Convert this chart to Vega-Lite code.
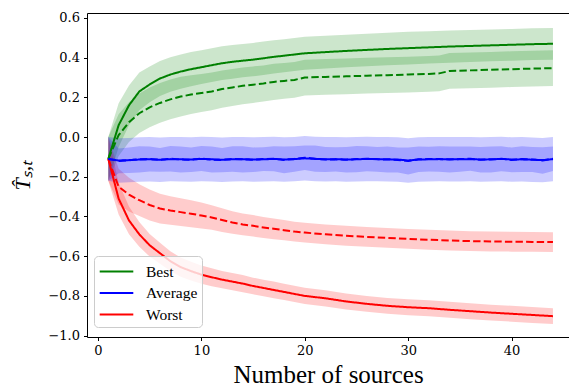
{
"$schema": "https://vega.github.io/schema/vega-lite/v6.json",
"width": 482, "height": 324,
"autosize": {"type": "none"},
"padding": {"left": 87, "top": 13, "right": 0, "bottom": 52},
"background": "white",
"data": {"values": [
{"x":1,"s":"Best","k":"solid","y":-0.11,"e":0.11},
{"x":2,"s":"Best","k":"solid","y":0.06,"e":0.11},
{"x":3,"s":"Best","k":"solid","y":0.16,"e":0.1},
{"x":4,"s":"Best","k":"solid","y":0.23,"e":0.095},
{"x":5,"s":"Best","k":"solid","y":0.265,"e":0.09},
{"x":6,"s":"Best","k":"solid","y":0.295,"e":0.088},
{"x":7,"s":"Best","k":"solid","y":0.315,"e":0.087},
{"x":8,"s":"Best","k":"solid","y":0.33,"e":0.086},
{"x":9,"s":"Best","k":"solid","y":0.342,"e":0.086},
{"x":10,"s":"Best","k":"solid","y":0.352,"e":0.085},
{"x":11,"s":"Best","k":"solid","y":0.362,"e":0.085},
{"x":12,"s":"Best","k":"solid","y":0.372,"e":0.085},
{"x":13,"s":"Best","k":"solid","y":0.379,"e":0.085},
{"x":14,"s":"Best","k":"solid","y":0.385,"e":0.084},
{"x":15,"s":"Best","k":"solid","y":0.39,"e":0.084},
{"x":16,"s":"Best","k":"solid","y":0.397,"e":0.084},
{"x":17,"s":"Best","k":"solid","y":0.404,"e":0.084},
{"x":18,"s":"Best","k":"solid","y":0.41,"e":0.083},
{"x":19,"s":"Best","k":"solid","y":0.416,"e":0.083},
{"x":20,"s":"Best","k":"solid","y":0.422,"e":0.083},
{"x":22,"s":"Best","k":"solid","y":0.428,"e":0.083},
{"x":24,"s":"Best","k":"solid","y":0.434,"e":0.082},
{"x":26,"s":"Best","k":"solid","y":0.439,"e":0.082},
{"x":28,"s":"Best","k":"solid","y":0.444,"e":0.082},
{"x":30,"s":"Best","k":"solid","y":0.448,"e":0.082},
{"x":32,"s":"Best","k":"solid","y":0.452,"e":0.081},
{"x":34,"s":"Best","k":"solid","y":0.456,"e":0.081},
{"x":36,"s":"Best","k":"solid","y":0.459,"e":0.081},
{"x":38,"s":"Best","k":"solid","y":0.462,"e":0.08},
{"x":40,"s":"Best","k":"solid","y":0.465,"e":0.08},
{"x":42,"s":"Best","k":"solid","y":0.468,"e":0.08},
{"x":44,"s":"Best","k":"solid","y":0.47,"e":0.08},
{"x":1,"s":"Best","k":"dashed","y":-0.11,"e":0.11},
{"x":2,"s":"Best","k":"dashed","y":0.01,"e":0.105},
{"x":3,"s":"Best","k":"dashed","y":0.075,"e":0.1},
{"x":4,"s":"Best","k":"dashed","y":0.12,"e":0.1},
{"x":5,"s":"Best","k":"dashed","y":0.15,"e":0.1},
{"x":6,"s":"Best","k":"dashed","y":0.172,"e":0.1},
{"x":7,"s":"Best","k":"dashed","y":0.19,"e":0.1},
{"x":8,"s":"Best","k":"dashed","y":0.204,"e":0.1},
{"x":9,"s":"Best","k":"dashed","y":0.214,"e":0.098},
{"x":10,"s":"Best","k":"dashed","y":0.222,"e":0.096},
{"x":11,"s":"Best","k":"dashed","y":0.23,"e":0.095},
{"x":12,"s":"Best","k":"dashed","y":0.242,"e":0.094},
{"x":13,"s":"Best","k":"dashed","y":0.25,"e":0.093},
{"x":14,"s":"Best","k":"dashed","y":0.258,"e":0.092},
{"x":15,"s":"Best","k":"dashed","y":0.264,"e":0.092},
{"x":16,"s":"Best","k":"dashed","y":0.27,"e":0.091},
{"x":17,"s":"Best","k":"dashed","y":0.278,"e":0.091},
{"x":18,"s":"Best","k":"dashed","y":0.283,"e":0.09},
{"x":19,"s":"Best","k":"dashed","y":0.288,"e":0.09},
{"x":20,"s":"Best","k":"dashed","y":0.3,"e":0.09},
{"x":22,"s":"Best","k":"dashed","y":0.303,"e":0.09},
{"x":24,"s":"Best","k":"dashed","y":0.306,"e":0.09},
{"x":26,"s":"Best","k":"dashed","y":0.309,"e":0.09},
{"x":28,"s":"Best","k":"dashed","y":0.312,"e":0.09},
{"x":30,"s":"Best","k":"dashed","y":0.315,"e":0.09},
{"x":32,"s":"Best","k":"dashed","y":0.318,"e":0.09},
{"x":33,"s":"Best","k":"dashed","y":0.321,"e":0.09},
{"x":34,"s":"Best","k":"dashed","y":0.333,"e":0.09},
{"x":36,"s":"Best","k":"dashed","y":0.336,"e":0.09},
{"x":38,"s":"Best","k":"dashed","y":0.339,"e":0.09},
{"x":40,"s":"Best","k":"dashed","y":0.342,"e":0.09},
{"x":42,"s":"Best","k":"dashed","y":0.345,"e":0.09},
{"x":44,"s":"Best","k":"dashed","y":0.347,"e":0.09},
{"x":1,"s":"Worst","k":"solid","y":-0.11,"e":0.11},
{"x":2,"s":"Worst","k":"solid","y":-0.31,"e":0.08},
{"x":3,"s":"Worst","k":"solid","y":-0.42,"e":0.07},
{"x":4,"s":"Worst","k":"solid","y":-0.49,"e":0.062},
{"x":5,"s":"Worst","k":"solid","y":-0.545,"e":0.057},
{"x":6,"s":"Worst","k":"solid","y":-0.585,"e":0.053},
{"x":7,"s":"Worst","k":"solid","y":-0.625,"e":0.05},
{"x":8,"s":"Worst","k":"solid","y":-0.655,"e":0.048},
{"x":9,"s":"Worst","k":"solid","y":-0.675,"e":0.047},
{"x":10,"s":"Worst","k":"solid","y":-0.693,"e":0.046},
{"x":11,"s":"Worst","k":"solid","y":-0.706,"e":0.045},
{"x":12,"s":"Worst","k":"solid","y":-0.718,"e":0.044},
{"x":13,"s":"Worst","k":"solid","y":-0.728,"e":0.043},
{"x":14,"s":"Worst","k":"solid","y":-0.738,"e":0.043},
{"x":15,"s":"Worst","k":"solid","y":-0.75,"e":0.042},
{"x":16,"s":"Worst","k":"solid","y":-0.76,"e":0.042},
{"x":17,"s":"Worst","k":"solid","y":-0.77,"e":0.042},
{"x":18,"s":"Worst","k":"solid","y":-0.78,"e":0.041},
{"x":19,"s":"Worst","k":"solid","y":-0.79,"e":0.041},
{"x":20,"s":"Worst","k":"solid","y":-0.8,"e":0.041},
{"x":22,"s":"Worst","k":"solid","y":-0.812,"e":0.041},
{"x":24,"s":"Worst","k":"solid","y":-0.828,"e":0.04},
{"x":26,"s":"Worst","k":"solid","y":-0.84,"e":0.04},
{"x":28,"s":"Worst","k":"solid","y":-0.85,"e":0.04},
{"x":30,"s":"Worst","k":"solid","y":-0.857,"e":0.04},
{"x":32,"s":"Worst","k":"solid","y":-0.862,"e":0.04},
{"x":34,"s":"Worst","k":"solid","y":-0.87,"e":0.04},
{"x":36,"s":"Worst","k":"solid","y":-0.877,"e":0.04},
{"x":38,"s":"Worst","k":"solid","y":-0.884,"e":0.04},
{"x":40,"s":"Worst","k":"solid","y":-0.89,"e":0.04},
{"x":42,"s":"Worst","k":"solid","y":-0.896,"e":0.04},
{"x":44,"s":"Worst","k":"solid","y":-0.902,"e":0.04},
{"x":1,"s":"Worst","k":"dashed","y":-0.11,"e":0.11},
{"x":2,"s":"Worst","k":"dashed","y":-0.25,"e":0.09},
{"x":3,"s":"Worst","k":"dashed","y":-0.29,"e":0.085},
{"x":4,"s":"Worst","k":"dashed","y":-0.318,"e":0.08},
{"x":5,"s":"Worst","k":"dashed","y":-0.342,"e":0.078},
{"x":6,"s":"Worst","k":"dashed","y":-0.36,"e":0.075},
{"x":7,"s":"Worst","k":"dashed","y":-0.37,"e":0.072},
{"x":8,"s":"Worst","k":"dashed","y":-0.378,"e":0.07},
{"x":9,"s":"Worst","k":"dashed","y":-0.386,"e":0.068},
{"x":10,"s":"Worst","k":"dashed","y":-0.395,"e":0.065},
{"x":11,"s":"Worst","k":"dashed","y":-0.405,"e":0.062},
{"x":12,"s":"Worst","k":"dashed","y":-0.418,"e":0.06},
{"x":13,"s":"Worst","k":"dashed","y":-0.43,"e":0.057},
{"x":14,"s":"Worst","k":"dashed","y":-0.44,"e":0.055},
{"x":15,"s":"Worst","k":"dashed","y":-0.447,"e":0.054},
{"x":16,"s":"Worst","k":"dashed","y":-0.455,"e":0.053},
{"x":17,"s":"Worst","k":"dashed","y":-0.462,"e":0.052},
{"x":18,"s":"Worst","k":"dashed","y":-0.469,"e":0.051},
{"x":19,"s":"Worst","k":"dashed","y":-0.476,"e":0.05},
{"x":20,"s":"Worst","k":"dashed","y":-0.481,"e":0.05},
{"x":22,"s":"Worst","k":"dashed","y":-0.49,"e":0.05},
{"x":24,"s":"Worst","k":"dashed","y":-0.497,"e":0.05},
{"x":26,"s":"Worst","k":"dashed","y":-0.503,"e":0.05},
{"x":28,"s":"Worst","k":"dashed","y":-0.508,"e":0.05},
{"x":30,"s":"Worst","k":"dashed","y":-0.513,"e":0.05},
{"x":32,"s":"Worst","k":"dashed","y":-0.517,"e":0.05},
{"x":34,"s":"Worst","k":"dashed","y":-0.521,"e":0.05},
{"x":36,"s":"Worst","k":"dashed","y":-0.524,"e":0.05},
{"x":38,"s":"Worst","k":"dashed","y":-0.526,"e":0.05},
{"x":40,"s":"Worst","k":"dashed","y":-0.527,"e":0.05},
{"x":42,"s":"Worst","k":"dashed","y":-0.528,"e":0.05},
{"x":44,"s":"Worst","k":"dashed","y":-0.529,"e":0.05},
{"x":1,"s":"Average","k":"solid","y":-0.11,"e":0.11},
{"x":2,"s":"Average","k":"solid","y":-0.118,"e":0.112},
{"x":3,"s":"Average","k":"solid","y":-0.116,"e":0.112},
{"x":4,"s":"Average","k":"solid","y":-0.113,"e":0.112},
{"x":5,"s":"Average","k":"solid","y":-0.112,"e":0.112},
{"x":6,"s":"Average","k":"solid","y":-0.114,"e":0.112},
{"x":7,"s":"Average","k":"solid","y":-0.111,"e":0.112},
{"x":8,"s":"Average","k":"solid","y":-0.112,"e":0.112},
{"x":9,"s":"Average","k":"solid","y":-0.113,"e":0.112},
{"x":10,"s":"Average","k":"solid","y":-0.11,"e":0.112},
{"x":11,"s":"Average","k":"solid","y":-0.112,"e":0.112},
{"x":12,"s":"Average","k":"solid","y":-0.114,"e":0.112},
{"x":13,"s":"Average","k":"solid","y":-0.112,"e":0.112},
{"x":14,"s":"Average","k":"solid","y":-0.111,"e":0.112},
{"x":15,"s":"Average","k":"solid","y":-0.113,"e":0.112},
{"x":16,"s":"Average","k":"solid","y":-0.112,"e":0.112},
{"x":17,"s":"Average","k":"solid","y":-0.11,"e":0.112},
{"x":18,"s":"Average","k":"solid","y":-0.113,"e":0.112},
{"x":19,"s":"Average","k":"solid","y":-0.111,"e":0.112},
{"x":20,"s":"Average","k":"solid","y":-0.107,"e":0.112},
{"x":21,"s":"Average","k":"solid","y":-0.11,"e":0.112},
{"x":22,"s":"Average","k":"solid","y":-0.112,"e":0.112},
{"x":23,"s":"Average","k":"solid","y":-0.111,"e":0.112},
{"x":24,"s":"Average","k":"solid","y":-0.113,"e":0.112},
{"x":25,"s":"Average","k":"solid","y":-0.112,"e":0.112},
{"x":26,"s":"Average","k":"solid","y":-0.11,"e":0.112},
{"x":27,"s":"Average","k":"solid","y":-0.111,"e":0.112},
{"x":28,"s":"Average","k":"solid","y":-0.112,"e":0.112},
{"x":29,"s":"Average","k":"solid","y":-0.113,"e":0.112},
{"x":30,"s":"Average","k":"solid","y":-0.118,"e":0.112},
{"x":31,"s":"Average","k":"solid","y":-0.113,"e":0.112},
{"x":32,"s":"Average","k":"solid","y":-0.112,"e":0.112},
{"x":33,"s":"Average","k":"solid","y":-0.111,"e":0.112},
{"x":34,"s":"Average","k":"solid","y":-0.112,"e":0.112},
{"x":35,"s":"Average","k":"solid","y":-0.112,"e":0.112},
{"x":36,"s":"Average","k":"solid","y":-0.111,"e":0.112},
{"x":37,"s":"Average","k":"solid","y":-0.113,"e":0.112},
{"x":38,"s":"Average","k":"solid","y":-0.112,"e":0.112},
{"x":39,"s":"Average","k":"solid","y":-0.11,"e":0.112},
{"x":40,"s":"Average","k":"solid","y":-0.113,"e":0.112},
{"x":41,"s":"Average","k":"solid","y":-0.112,"e":0.112},
{"x":42,"s":"Average","k":"solid","y":-0.114,"e":0.112},
{"x":43,"s":"Average","k":"solid","y":-0.116,"e":0.112},
{"x":44,"s":"Average","k":"solid","y":-0.111,"e":0.112},
{"x":1,"s":"Average","k":"dashed","y":-0.11,"e":0.11},
{"x":2,"s":"Average","k":"dashed","y":-0.12,"e":0.062},
{"x":3,"s":"Average","k":"dashed","y":-0.117,"e":0.064},
{"x":4,"s":"Average","k":"dashed","y":-0.112,"e":0.066},
{"x":5,"s":"Average","k":"dashed","y":-0.11,"e":0.063},
{"x":6,"s":"Average","k":"dashed","y":-0.115,"e":0.06},
{"x":7,"s":"Average","k":"dashed","y":-0.109,"e":0.064},
{"x":8,"s":"Average","k":"dashed","y":-0.113,"e":0.066},
{"x":9,"s":"Average","k":"dashed","y":-0.114,"e":0.062},
{"x":10,"s":"Average","k":"dashed","y":-0.108,"e":0.063},
{"x":11,"s":"Average","k":"dashed","y":-0.113,"e":0.065},
{"x":12,"s":"Average","k":"dashed","y":-0.116,"e":0.061},
{"x":13,"s":"Average","k":"dashed","y":-0.11,"e":0.064},
{"x":14,"s":"Average","k":"dashed","y":-0.112,"e":0.066},
{"x":15,"s":"Average","k":"dashed","y":-0.114,"e":0.062},
{"x":16,"s":"Average","k":"dashed","y":-0.111,"e":0.06},
{"x":17,"s":"Average","k":"dashed","y":-0.109,"e":0.063},
{"x":18,"s":"Average","k":"dashed","y":-0.115,"e":0.067},
{"x":19,"s":"Average","k":"dashed","y":-0.11,"e":0.064},
{"x":20,"s":"Average","k":"dashed","y":-0.104,"e":0.062},
{"x":21,"s":"Average","k":"dashed","y":-0.109,"e":0.066},
{"x":22,"s":"Average","k":"dashed","y":-0.113,"e":0.063},
{"x":23,"s":"Average","k":"dashed","y":-0.112,"e":0.061},
{"x":24,"s":"Average","k":"dashed","y":-0.114,"e":0.064},
{"x":25,"s":"Average","k":"dashed","y":-0.111,"e":0.066},
{"x":26,"s":"Average","k":"dashed","y":-0.109,"e":0.063},
{"x":27,"s":"Average","k":"dashed","y":-0.112,"e":0.062},
{"x":28,"s":"Average","k":"dashed","y":-0.113,"e":0.065},
{"x":29,"s":"Average","k":"dashed","y":-0.115,"e":0.063},
{"x":30,"s":"Average","k":"dashed","y":-0.121,"e":0.068},
{"x":31,"s":"Average","k":"dashed","y":-0.112,"e":0.064},
{"x":32,"s":"Average","k":"dashed","y":-0.111,"e":0.062},
{"x":33,"s":"Average","k":"dashed","y":-0.11,"e":0.064},
{"x":34,"s":"Average","k":"dashed","y":-0.113,"e":0.066},
{"x":35,"s":"Average","k":"dashed","y":-0.111,"e":0.063},
{"x":36,"s":"Average","k":"dashed","y":-0.109,"e":0.061},
{"x":37,"s":"Average","k":"dashed","y":-0.114,"e":0.064},
{"x":38,"s":"Average","k":"dashed","y":-0.113,"e":0.066},
{"x":39,"s":"Average","k":"dashed","y":-0.109,"e":0.063},
{"x":40,"s":"Average","k":"dashed","y":-0.115,"e":0.062},
{"x":41,"s":"Average","k":"dashed","y":-0.111,"e":0.065},
{"x":42,"s":"Average","k":"dashed","y":-0.113,"e":0.063},
{"x":43,"s":"Average","k":"dashed","y":-0.118,"e":0.067},
{"x":44,"s":"Average","k":"dashed","y":-0.109,"e":0.062}
]},
"encoding": {
  "x": {"field": "x", "type": "quantitative",
        "scale": {"domain": [-1.06, 45.55], "nice": false, "zero": false},
        "axis": {"values": [0, 10, 20, 30, 40], "title": "Number of sources", "titleFontSize": 25, "titlePadding": 5, "labelPadding": 4,
                 "labelFont": "DejaVu Serif", "labelFontSize": 13}}
},
"layer": [
  {
    "mark": {"type": "errorband", "band": {"opacity": 0.2}},
    "encoding": {
      "y": {"field": "y", "type": "quantitative",
            "scale": {"domain": [-1.007, 0.625], "nice": false, "zero": false},
            "axis": {"values": [-1, -0.8, -0.6, -0.4, -0.2, 0, 0.2, 0.4, 0.6], "format": ".1f", "title": "T̂ₛ,ₜ", "titleFontSize": 22, "titleFontStyle": "italic", "titlePadding": 13, "labelPadding": 4,
                     "labelFont": "DejaVu Serif", "labelFontSize": 13}},
      "yError": {"field": "e"},
      "color": {"field": "s", "type": "nominal", "legend": null,
                "scale": {"domain": ["Best", "Average", "Worst"], "range": ["#008000", "#0000ff", "#ff0000"]}},
      "detail": {"field": "k", "type": "nominal"}
    }
  },
  {
    "mark": {"type": "line", "strokeWidth": 2},
    "encoding": {
      "y": {"field": "y", "type": "quantitative"},
      "color": {"field": "s", "type": "nominal",
                "scale": {"domain": ["Best", "Average", "Worst"], "range": ["#008000", "#0000ff", "#ff0000"]},
                "legend": {"title": null, "orient": "none", "legendX": 7, "legendY": 243,
                           "symbolType": "M-1.6,0L1.6,0", "symbolStrokeWidth": 2, "symbolSize": 441, "symbolOffset": 7,
                           "labelFont": "Liberation Serif", "labelFontSize": 15.5, "labelColor": "black", "labelOffset": 18,
                           "rowPadding": 1.5,
                           "padding": 4, "strokeColor": "#cccccc", "fillColor": "rgba(255,255,255,0.8)", "cornerRadius": 4}},
      "strokeDash": {"field": "k", "type": "nominal",
                     "scale": {"domain": ["solid", "dashed"], "range": [[1, 0], [7.4, 3.2]]}, "legend": null}
    }
  }
],
"resolve": {"scale": {"color": "independent"}},
"config": {
  "font": "Liberation Serif",
  "view": {"stroke": "black", "strokeWidth": 1},
  "axis": {"grid": false, "domain": false, "tickColor": "black", "tickSize": 3.5, "tickWidth": 1,
           "titleFont": "Liberation Serif",
           "labelColor": "black", "titleColor": "black", "titleFontWeight": "normal"}
}
}
